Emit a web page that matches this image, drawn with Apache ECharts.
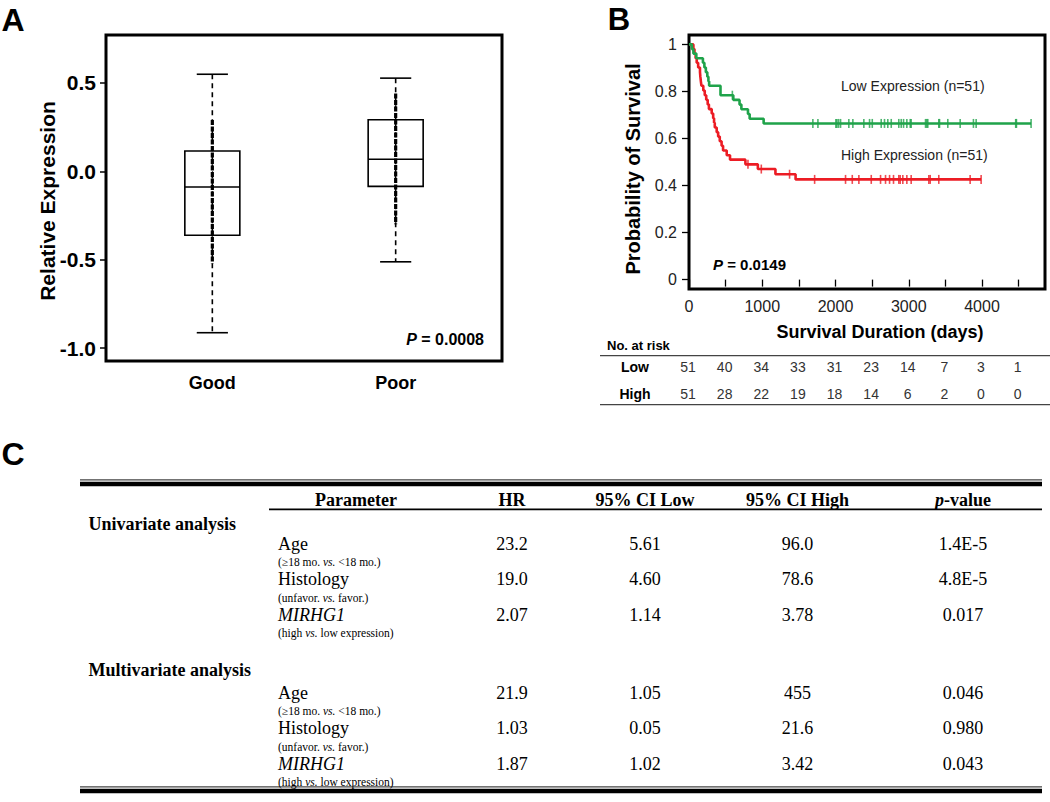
<!DOCTYPE html>
<html><head><meta charset="utf-8">
<script src="https://cdn.jsdelivr.net/npm/echarts@6/dist/echarts.min.js"></script>
<style>html,body{margin:0;padding:0;background:#fff}#c{width:1050px;height:802px}</style>
</head><body><div id="c"></div>
<script>
// ---------- Panel A : box plot ----------
const boxCategories = ['Good', 'Poor'];
const boxLow    = [-0.913, -0.512];
const boxQ1     = [-0.362, -0.085];
const boxMedian = [-0.089,  0.068];
const boxQ3     = [ 0.115,  0.292];
const boxHigh   = [ 0.549,  0.527];
const pointsDenseTop    = [0.29, 0.44];   // range where observed points pile up
const pointsDenseBottom = [-0.52, -0.30];
const boxYTicks = [-1.0, -0.5, 0.0, 0.5];
const boxPValue = '0.0008';

// ---------- Panel B : Kaplan-Meier ----------
const lowEventTimes = [0, 40, 60, 100, 190, 210, 230, 250, 265, 275, 430, 605, 690, 715, 805, 828, 1019];
const lowEventSurv  = [1, 0.980, 0.961, 0.941, 0.922, 0.902, 0.882, 0.863, 0.843, 0.824, 0.784, 0.764, 0.744, 0.724, 0.704, 0.684, 0.664];
const lowCensor = [592, 1691, 1760, 2005, 2019, 2042, 2069, 2182, 2237, 2387, 2465, 2502, 2624, 2669, 2714, 2761,
  2864, 2897, 2929, 2974, 3020, 3033, 3229, 3245, 3260, 3410, 3420, 3533, 3702, 3883, 3920, 4460, 4470, 4670];
const highEventTimes = [0, 60, 75, 90, 105, 125, 150, 155, 162, 170, 195, 215, 235, 255, 272, 310, 330, 342, 352, 378,
  398, 420, 445, 465, 515, 560, 770, 940, 1180, 1455];
const highEventSurv = [1, 0.980, 0.961, 0.941, 0.922, 0.902, 0.882, 0.863, 0.843, 0.824, 0.804, 0.784, 0.765, 0.745, 0.725,
  0.706, 0.686, 0.667, 0.647, 0.627, 0.608, 0.588, 0.569, 0.549, 0.529, 0.510, 0.490, 0.470, 0.448, 0.426];
const highCensor = [805, 987, 1373, 1715, 2137, 2229, 2319, 2488, 2615, 2683, 2738, 2792, 2864, 2883, 2919, 2974,
  3033, 3274, 3293, 3410, 3838, 3988];
const kmYTicks = [0, 0.2, 0.4, 0.6, 0.8, 1];
const kmXTicks = [0, 500, 1000, 1500, 2000, 2500, 3000, 3500, 4000, 4500];
const kmXLabels = [0, 1000, 2000, 3000, 4000];
const kmPValue = '0.0149';
const lowLabel = 'Low Expression (n=51)';
const highLabel = 'High Expression (n=51)';
const riskTimes = [0, 500, 1000, 1500, 2000, 2500, 3000, 3500, 4000, 4500];
const riskLow  = [51, 40, 34, 33, 31, 23, 14, 7, 3, 1];
const riskHigh = [51, 28, 22, 19, 18, 14, 6, 2, 0, 0];

// ---------- Panel C : table ----------
const tableHeaders = ['Parameter', 'HR', '95% CI Low', '95% CI High', '{i|p}-value'];
const analysisGroups = ['Univariate analysis', 'Multivariate analysis'];
const paramNames = ['Age', 'Histology', '{i|MIRHG1}'];
const paramNotes = ['(\u226518 mo. {i|vs.} <18 mo.)', '(unfavor. {i|vs.} favor.)', '(high {i|vs.} low expression)'];
const uniHR     = ['23.2', '19.0', '2.07'];
const uniCILow  = ['5.61', '4.60', '1.14'];
const uniCIHigh = ['96.0', '78.6', '3.78'];
const uniP      = ['1.4E-5', '4.8E-5', '0.017'];
const multiHR     = ['21.9', '1.03', '1.87'];
const multiCILow  = ['1.05', '0.05', '1.02'];
const multiCIHigh = ['455', '21.6', '3.42'];
const multiP      = ['0.046', '0.980', '0.043'];

// ------------------------------------------------------------
const SANS = '"Liberation Sans", Arial, Helvetica, sans-serif';
const SERIF = '"Liberation Serif", "Times New Roman", Times, serif';
const GREEN = '#1fa34a';
const RED = '#ec1c24';

function survAt(times, surv, t) {
  let s = surv[0];
  for (let i = 0; i < times.length; i++) { if (times[i] <= t) s = surv[i]; }
  return s;
}
const lowLine = lowEventTimes.map((t, i) => [t, lowEventSurv[i]]);
lowLine.push([lowCensor[lowCensor.length - 1], survAt(lowEventTimes, lowEventSurv, lowCensor[lowCensor.length - 1])]);
const highLine = highEventTimes.map((t, i) => [t, highEventSurv[i]]);
highLine.push([highCensor[highCensor.length - 1], survAt(highEventTimes, highEventSurv, highCensor[highCensor.length - 1])]);
const lowCensorPts = lowCensor.map(t => [t, survAt(lowEventTimes, lowEventSurv, t)]);
const highCensorPts = highCensor.map(t => [t, survAt(highEventTimes, highEventSurv, t)]);

const boxData = boxCategories.map((c, i) => [i + 1, boxLow[i], boxQ1[i], boxMedian[i], boxQ3[i], boxHigh[i], pointsDenseTop[i], pointsDenseBottom[i]]);

const chart = echarts.init(document.getElementById('c'), null, {renderer: 'svg', width: 1050, height: 802});

function txt(x, y, text, o) {
  const st = Object.assign({text: text, fill: '#000', fontFamily: SANS, fontSize: 14, fontWeight: 'normal'}, o || {});
  const al = st.align || 'left', va = st.verticalAlign || 'middle';
  st.align = al; st.textAlign = al; st.verticalAlign = va; st.textVerticalAlign = va;
  return {type: 'text', x: x, y: y, silent: true, rotation: o && o.rot ? o.rot : 0, style: st};
}
function rect(x, y, w, h, fill) {
  return {type: 'rect', silent: true, shape: {x: x, y: y, width: w, height: h}, style: {fill: fill || '#000'}};
}

const option = {
  animation: false,
  backgroundColor: '#fff',
  textStyle: {fontFamily: SANS},
  grid: [
    {left: 106, top: 35, width: 396, height: 326, show: true, borderColor: '#000', borderWidth: 3, backgroundColor: 'transparent', outerBoundsMode: 'none', containLabel: false},
    {left: 689, top: 35, width: 356, height: 254, show: true, borderColor: '#000', borderWidth: 3, backgroundColor: 'transparent', outerBoundsMode: 'none', containLabel: false}
  ],
  xAxis: [
    {gridIndex: 0, type: 'value', min: 0.42, max: 2.58, splitLine: {show: false}, axisLine: {show: false},
     axisTick: {show: true, length: 7, customValues: [1, 2], lineStyle: {color: '#000', width: 1.2}},
     axisLabel: {customValues: [1, 2], margin: 13, fontSize: 18, fontWeight: 'bold', color: '#000', fontFamily: SANS,
                 formatter: v => boxCategories[Math.round(v) - 1]}},
    {gridIndex: 1, type: 'value', min: 0, max: 4860, splitLine: {show: false}, axisLine: {show: false},
     axisTick: {show: true, length: 7, customValues: kmXTicks, lineStyle: {color: '#000', width: 1.3}},
     axisLabel: {customValues: kmXLabels, margin: 9, fontSize: 16, color: '#222', fontFamily: SANS, formatter: v => String(v)}}
  ],
  yAxis: [
    {gridIndex: 0, type: 'value', min: -1.073, max: 0.771, splitLine: {show: false}, axisLine: {show: false},
     axisTick: {show: true, length: 6, customValues: boxYTicks, lineStyle: {color: '#000', width: 1.5}},
     axisLabel: {customValues: boxYTicks, margin: 10, fontSize: 21, fontWeight: 'bold', color: '#000', fontFamily: SANS,
                 formatter: v => v.toFixed(1)}},
    {gridIndex: 1, type: 'value', min: -0.04, max: 1.04, splitLine: {show: false}, axisLine: {show: false},
     axisTick: {show: true, length: 7, customValues: kmYTicks, lineStyle: {color: '#000', width: 1.3}},
     axisLabel: {customValues: kmYTicks, margin: 12, fontSize: 16, color: '#222', fontFamily: SANS,
                 formatter: v => (v === 0 || v === 1) ? String(v) : v.toFixed(1)}}
  ],
  series: [
    {
      type: 'custom', xAxisIndex: 0, yAxisIndex: 0, data: boxData, encode: {x: 0, y: [1, 2, 3, 4, 5]},
      renderItem: function (params, api) {
        const x = api.value(0);
        const pLo = api.coord([x, api.value(1)]);
        const pQ1 = api.coord([x, api.value(2)]);
        const pMd = api.coord([x, api.value(3)]);
        const pQ3 = api.coord([x, api.value(4)]);
        const pHi = api.coord([x, api.value(5)]);
        const pDt = api.coord([x, api.value(6)]);
        const pDb = api.coord([x, api.value(7)]);
        const half = api.size([0.30, 0])[0] / 2;
        const cap = api.size([0.17, 0])[0] / 2;
        const cx = pMd[0];
        const ln = (x1, y1, x2, y2, w, dash) => ({type: 'line', shape: {x1, y1, x2, y2},
          style: {stroke: '#000', lineWidth: w, lineDash: dash || null, fill: null}});
        return {type: 'group', children: [
          {type: 'rect', shape: {x: cx - half, y: pQ3[1], width: 2 * half, height: pQ1[1] - pQ3[1]},
           style: {fill: 'none', stroke: '#000', lineWidth: 1.6}},
          ln(cx - half, pMd[1], cx + half, pMd[1], 1.6),
          ln(cx, pHi[1], cx, pLo[1], 1.6, [5, 4]),
          ln(cx, pDt[1], cx, pDb[1], 3.2, [5, 1.5]),
          ln(cx - cap, pHi[1], cx + cap, pHi[1], 1.6),
          ln(cx - cap, pLo[1], cx + cap, pLo[1], 1.6)
        ]};
      }
    },
    {type: 'line', xAxisIndex: 1, yAxisIndex: 1, step: 'end', data: highLine, showSymbol: false,
     lineStyle: {color: RED, width: 2.6}, itemStyle: {color: RED}, z: 3},
    {type: 'line', xAxisIndex: 1, yAxisIndex: 1, step: 'end', data: lowLine, showSymbol: false,
     lineStyle: {color: GREEN, width: 2.6}, itemStyle: {color: GREEN}, z: 3},
    {type: 'scatter', xAxisIndex: 1, yAxisIndex: 1, data: highCensorPts, symbol: 'rect', symbolSize: [1.6, 9],
     itemStyle: {color: RED}, z: 4},
    {type: 'scatter', xAxisIndex: 1, yAxisIndex: 1, data: lowCensorPts, symbol: 'rect', symbolSize: [1.6, 9],
     itemStyle: {color: GREEN}, z: 4}
  ]
};
chart.setOption(option);

// ---------- annotations / tables ----------
const g = [];
// panel letters
g.push(txt(13, 20, 'A', {fontSize: 32, fontWeight: 'bold', align: 'center'}));
g.push(txt(619, 19, 'B', {fontSize: 31, fontWeight: 'bold', align: 'center'}));
g.push(txt(13, 454, 'C', {fontSize: 32, fontWeight: 'bold', align: 'center'}));

// panel A texts
g.push(txt(47, 201, 'Relative Expression', {fontSize: 21, fontWeight: 'bold', align: 'center', rot: Math.PI / 2}));
g.push(txt(484, 339, '{i|P} = ' + boxPValue, {fontSize: 16, fontWeight: 'bold', align: 'right',
  rich: {i: {fontStyle: 'italic', fontWeight: 'bold', fontSize: 16, fontFamily: SANS}}}));

// panel B texts
g.push(txt(633, 169, 'Probability of Survival', {fontSize: 20, fontWeight: 'bold', align: 'center', rot: Math.PI / 2}));
g.push(txt(880, 332, 'Survival Duration (days)', {fontSize: 18, fontWeight: 'bold', align: 'center'}));
g.push(txt(841, 86, lowLabel, {fontSize: 14, fill: '#222'}));
g.push(txt(841, 155, highLabel, {fontSize: 14, fill: '#222'}));
g.push(txt(713, 264, '{i|P} = ' + kmPValue, {fontSize: 15, fontWeight: 'bold',
  rich: {i: {fontStyle: 'italic', fontWeight: 'bold', fontSize: 15, fontFamily: SANS}}}));

// risk table
g.push(txt(607, 345, 'No. at risk', {fontSize: 13, fontWeight: 'bold'}));
g.push(rect(600, 355, 450, 1.3, '#444'));
g.push(rect(600, 404, 450, 1.3, '#444'));
g.push(txt(635, 367, 'Low', {fontSize: 14, fontWeight: 'bold', align: 'center'}));
g.push(txt(635, 393.5, 'High', {fontSize: 14, fontWeight: 'bold', align: 'center'}));
riskTimes.forEach((t, i) => {
  const px = chart.convertToPixel({xAxisIndex: 1}, t);
  g.push(txt(px - 1, 367, String(riskLow[i]), {fontSize: 14, fill: '#333', align: 'center'}));
  g.push(txt(px - 1, 393.5, String(riskHigh[i]), {fontSize: 14, fill: '#333', align: 'center'}));
});

// table C
const tL = 80, tR = 1042;
g.push(rect(tL, 479.3, tR - tL, 1.2, '#444'));
g.push(rect(tL, 481.8, tR - tL, 4.4, '#000'));
g.push(rect(269, 508.5, tR - 269, 1.8, '#000'));
g.push(rect(tL, 786.3, tR - tL, 1.2, '#444'));
g.push(rect(tL, 788.7, tR - tL, 4.6, '#000'));
const colX = [356, 512, 645, 797.5, 963];
const richI = (fs, fw) => ({i: {fontStyle: 'italic', fontFamily: SERIF, fontSize: fs, fontWeight: fw || 'normal'}});
tableHeaders.forEach((h, i) => g.push(txt(colX[i], 499.5, h, {fontFamily: SERIF, fontSize: 18, fontWeight: 'bold', align: 'center', rich: richI(18, 'bold')})));
const groupY = [523.5, 669.5];
const rowY0 = [543.5, 692.5];
const rowStep = 35.5;
const groupVals = [[uniHR, uniCILow, uniCIHigh, uniP], [multiHR, multiCILow, multiCIHigh, multiP]];
analysisGroups.forEach((gName, gi) => {
  g.push(txt(88.5, groupY[gi], gName, {fontFamily: SERIF, fontSize: 18, fontWeight: 'bold'}));
  paramNames.forEach((p, r) => {
    const y = rowY0[gi] + r * rowStep;
    g.push(txt(278, y, p, {fontFamily: SERIF, fontSize: 18, rich: richI(18)}));
    g.push(txt(278, y + 18.5, paramNotes[r], {fontFamily: SERIF, fontSize: 11.5, rich: richI(11.5)}));
    groupVals[gi].forEach((col, c) => {
      g.push(txt(colX[c + 1], y, col[r], {fontFamily: SERIF, fontSize: 18, align: 'center'}));
    });
  });
});

chart.setOption({graphic: {elements: g}});
</script>
</body></html>
